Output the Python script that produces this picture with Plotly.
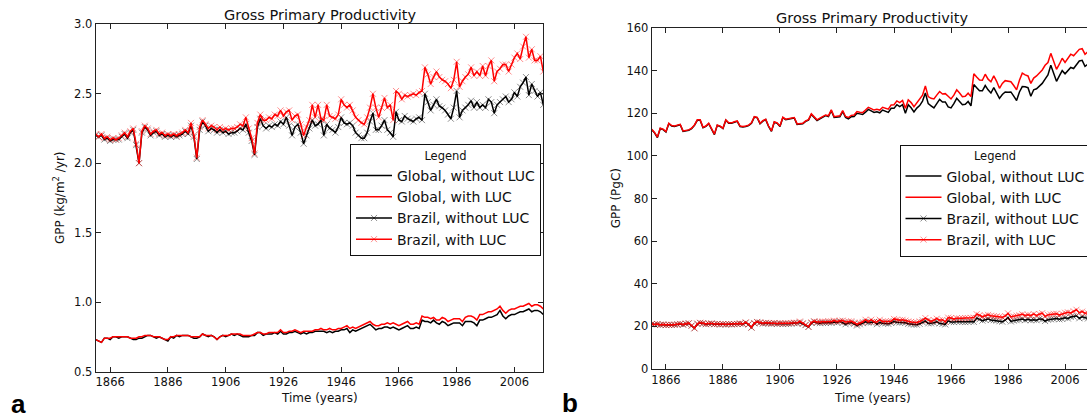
import plotly.graph_objects as go

START_YEAR = 1861
XTICKS = [1866, 1886, 1906, 1926, 1946, 1966, 1986, 2006]
LEGEND_NAMES = ["Global, without LUC", "Global, with LUC", "Brazil, without LUC", "Brazil, with LUC"]

# ---------------- Panel a: GPP (kg/m2/yr) ----------------
GL_A_NOLUC = [
    0.73, 0.72, 0.71, 0.74, 0.74, 0.73, 0.75, 0.75, 0.74, 0.75,
    0.75, 0.75, 0.74, 0.73, 0.73, 0.74, 0.74, 0.75, 0.76, 0.76,
    0.75, 0.74, 0.75, 0.74, 0.73, 0.72, 0.75, 0.74, 0.76, 0.75,
    0.76, 0.76, 0.76, 0.75, 0.74, 0.74, 0.75, 0.77, 0.76, 0.75,
    0.76, 0.75, 0.73, 0.75, 0.76, 0.75, 0.76, 0.77, 0.76, 0.77,
    0.76, 0.75, 0.75, 0.75, 0.76, 0.76, 0.78, 0.78, 0.76, 0.77,
    0.77, 0.77, 0.78, 0.77, 0.79, 0.77, 0.77, 0.78, 0.78, 0.79,
    0.78, 0.77, 0.78, 0.77, 0.78, 0.78, 0.79, 0.79, 0.79, 0.79,
    0.78, 0.79, 0.78, 0.79, 0.79, 0.80, 0.80, 0.81, 0.78, 0.80,
    0.79, 0.80, 0.81, 0.82, 0.83, 0.84, 0.82, 0.80, 0.81, 0.81,
    0.82, 0.82, 0.81, 0.82, 0.81, 0.80, 0.81, 0.82, 0.83, 0.81,
    0.81, 0.82, 0.81, 0.87, 0.86, 0.86, 0.85, 0.87, 0.85, 0.84,
    0.86, 0.85, 0.83, 0.84, 0.85, 0.85, 0.85, 0.83, 0.86, 0.86,
    0.86, 0.85, 0.83, 0.87, 0.87, 0.88, 0.89, 0.89, 0.90, 0.91,
    0.94, 0.90, 0.88, 0.90, 0.91, 0.91, 0.92, 0.93, 0.93, 0.94,
    0.95, 0.93, 0.94, 0.94, 0.93, 0.91,
]
GL_A_LUC = [
    0.73, 0.72, 0.71, 0.74, 0.74, 0.74, 0.75, 0.75, 0.75, 0.75,
    0.75, 0.75, 0.74, 0.74, 0.74, 0.75, 0.75, 0.76, 0.76, 0.76,
    0.75, 0.75, 0.75, 0.74, 0.73, 0.73, 0.75, 0.75, 0.76, 0.76,
    0.76, 0.76, 0.76, 0.75, 0.75, 0.75, 0.75, 0.77, 0.76, 0.76,
    0.76, 0.75, 0.73, 0.75, 0.76, 0.76, 0.76, 0.77, 0.77, 0.77,
    0.77, 0.76, 0.76, 0.76, 0.76, 0.77, 0.78, 0.78, 0.77, 0.77,
    0.78, 0.78, 0.78, 0.78, 0.80, 0.78, 0.78, 0.79, 0.79, 0.80,
    0.79, 0.78, 0.79, 0.79, 0.79, 0.79, 0.80, 0.80, 0.81, 0.80,
    0.80, 0.81, 0.80, 0.80, 0.81, 0.81, 0.82, 0.83, 0.81, 0.82,
    0.81, 0.82, 0.83, 0.84, 0.85, 0.86, 0.84, 0.83, 0.83, 0.84,
    0.84, 0.85, 0.84, 0.85, 0.84, 0.83, 0.84, 0.85, 0.86, 0.84,
    0.84, 0.85, 0.84, 0.90, 0.89, 0.89, 0.88, 0.89, 0.87, 0.87,
    0.89, 0.88, 0.86, 0.87, 0.88, 0.88, 0.88, 0.86, 0.89, 0.90,
    0.90, 0.89, 0.87, 0.91, 0.91, 0.92, 0.93, 0.93, 0.94, 0.95,
    0.97, 0.94, 0.92, 0.94, 0.95, 0.95, 0.96, 0.97, 0.97, 0.98,
    0.99, 0.97, 0.98, 0.98, 0.97, 0.95,
]
BR_A_NOLUC = [
    2.20, 2.19, 2.20, 2.17, 2.18, 2.16, 2.17, 2.17, 2.17, 2.19,
    2.21, 2.18, 2.22, 2.24, 2.13, 2.00, 2.22, 2.26, 2.24, 2.20,
    2.22, 2.23, 2.20, 2.21, 2.19, 2.20, 2.19, 2.20, 2.19, 2.20,
    2.21, 2.23, 2.21, 2.27, 2.19, 2.03, 2.24, 2.30, 2.27, 2.23,
    2.25, 2.24, 2.22, 2.24, 2.22, 2.23, 2.21, 2.22, 2.22, 2.23,
    2.25, 2.24, 2.28, 2.22, 2.16, 2.06, 2.26, 2.32, 2.27, 2.25,
    2.27, 2.26, 2.28, 2.27, 2.30, 2.28, 2.33, 2.27, 2.20, 2.26,
    2.28, 2.22, 2.14, 2.20, 2.25, 2.31, 2.27, 2.28, 2.31, 2.20,
    2.28, 2.25, 2.24, 2.22, 2.26, 2.33, 2.29, 2.28, 2.29, 2.27,
    2.22, 2.20, 2.18, 2.18, 2.22, 2.30, 2.36, 2.24, 2.24, 2.27,
    2.31, 2.24, 2.22, 2.19, 2.37, 2.31, 2.30, 2.34, 2.32, 2.31,
    2.30, 2.32, 2.33, 2.31, 2.50, 2.44, 2.38, 2.42, 2.46, 2.41,
    2.40, 2.38, 2.35, 2.32, 2.40, 2.52, 2.33, 2.38, 2.40, 2.42,
    2.45, 2.40, 2.44, 2.40, 2.42, 2.40, 2.46, 2.44, 2.36, 2.42,
    2.44, 2.46, 2.48, 2.44, 2.46, 2.51, 2.48, 2.55, 2.58, 2.62,
    2.49, 2.57, 2.52, 2.48, 2.51, 2.42,
]
BR_A_LUC = [
    2.21, 2.19, 2.21, 2.18, 2.19, 2.17, 2.18, 2.17, 2.18, 2.20,
    2.22, 2.19, 2.23, 2.25, 2.14, 2.00, 2.23, 2.27, 2.25, 2.21,
    2.23, 2.24, 2.21, 2.22, 2.20, 2.21, 2.20, 2.21, 2.20, 2.21,
    2.22, 2.24, 2.22, 2.29, 2.20, 2.04, 2.26, 2.31, 2.28, 2.25,
    2.27, 2.26, 2.24, 2.26, 2.24, 2.25, 2.24, 2.25, 2.25, 2.26,
    2.28, 2.27, 2.33, 2.25, 2.18, 2.07, 2.29, 2.35, 2.31, 2.31,
    2.33, 2.32, 2.35, 2.34, 2.38, 2.34, 2.37, 2.38, 2.31, 2.34,
    2.35, 2.28, 2.20, 2.26, 2.31, 2.42, 2.33, 2.42, 2.32, 2.31,
    2.42, 2.34, 2.33, 2.32, 2.35, 2.46, 2.42, 2.40, 2.42, 2.38,
    2.33, 2.31, 2.29, 2.28, 2.33, 2.40, 2.50, 2.40, 2.33, 2.40,
    2.47, 2.40, 2.42, 2.31, 2.52, 2.50, 2.46, 2.49, 2.48, 2.49,
    2.50, 2.49, 2.51, 2.52, 2.69, 2.64, 2.57, 2.62, 2.66, 2.62,
    2.60, 2.59, 2.57, 2.54, 2.60, 2.73, 2.55, 2.59, 2.62, 2.64,
    2.69, 2.63, 2.66, 2.63, 2.70, 2.63, 2.70, 2.74, 2.59, 2.66,
    2.68, 2.71, 2.71, 2.66, 2.71, 2.76, 2.79, 2.75, 2.84, 2.91,
    2.76, 2.82, 2.74, 2.74, 2.77, 2.66,
]

# ---------------- Panel b: GPP (PgC) ----------------
GL_B_NOLUC = [
    112.3, 110.8, 108.6, 112.8, 112.3, 111.2, 115.1, 114.0, 113.8, 114.3,
    114.6, 111.5, 111.8, 112.0, 112.8, 114.3, 116.7, 116.7, 113.2, 113.8,
    115.1, 112.8, 110.0, 114.3, 113.8, 112.8, 116.7, 115.3, 115.3, 115.8,
    116.2, 113.8, 113.6, 113.8, 114.2, 115.3, 118.2, 117.9, 115.1, 116.3,
    117.0, 113.8, 111.5, 115.8, 115.3, 113.8, 117.9, 117.0, 117.3, 117.8,
    117.8, 114.8, 115.0, 115.1, 116.2, 116.8, 119.4, 118.2, 116.6, 117.4,
    118.2, 118.9, 118.4, 121.2, 118.0, 118.2, 118.3, 120.8, 118.0, 117.4,
    118.4, 118.5, 120.0, 119.7, 119.4, 120.5, 121.8, 121.1, 120.4, 120.7,
    120.2, 121.5, 120.9, 120.4, 122.3, 122.3, 124.0, 123.1, 124.0, 120.0,
    124.0, 122.6, 120.6, 122.4, 123.6, 125.7, 129.5, 124.5, 123.5, 122.5,
    124.5, 126.5, 125.3, 125.3, 123.0, 122.5, 124.5, 127.0, 125.5, 124.0,
    124.2, 125.5, 123.5, 133.5, 132.0, 130.5, 130.5, 133.0, 131.0, 129.5,
    132.0, 129.5, 127.0, 128.8, 130.0, 129.8, 130.0, 128.0, 126.0, 130.0,
    132.5, 132.4, 132.0, 128.0, 131.0, 131.5, 132.8, 134.0, 136.0, 138.0,
    142.5, 138.5, 135.0, 137.5, 140.0, 138.5, 140.0, 141.5, 141.0, 142.5,
    144.5, 144.8, 142.0, 143.0, 143.0, 141.5,
]
GL_B_LUC = [
    112.5, 111.0, 108.8, 113.0, 112.5, 111.4, 115.3, 114.2, 114.0, 114.5,
    114.8, 111.7, 112.0, 112.2, 113.0, 114.5, 116.9, 116.9, 113.4, 114.0,
    115.3, 113.0, 110.2, 114.5, 114.0, 113.0, 116.9, 115.5, 115.5, 116.0,
    116.4, 114.0, 113.8, 114.0, 114.4, 115.5, 118.4, 118.1, 115.3, 116.5,
    117.2, 114.0, 111.7, 116.0, 115.5, 114.0, 118.1, 117.2, 117.5, 118.0,
    118.0, 115.0, 115.2, 115.3, 116.4, 117.0, 119.7, 118.5, 116.9, 117.7,
    118.5, 119.2, 118.8, 121.6, 118.4, 118.6, 118.8, 121.3, 118.5, 118.0,
    119.0, 119.2, 120.8, 120.5, 120.3, 121.5, 122.8, 122.2, 121.5, 121.9,
    121.5, 122.8, 122.3, 121.9, 123.9, 124.0, 125.8, 125.0, 126.0, 122.3,
    126.3, 125.0, 123.1, 125.0, 126.3, 128.5, 132.8, 127.8, 127.0, 126.7,
    128.5, 130.2, 129.0, 129.2, 128.0, 126.7, 128.5, 131.0, 129.5, 127.8,
    128.0, 129.4, 127.8, 138.5, 137.0, 135.6, 135.5, 138.3, 136.0, 134.8,
    137.5, 135.0, 131.7, 134.0, 135.3, 135.0, 134.8, 133.0, 131.0, 135.5,
    138.8, 138.0, 137.5, 134.0, 136.5, 137.5, 139.0, 140.3, 142.5, 143.8,
    148.1, 144.0, 140.6, 143.0, 145.8, 143.8, 145.5, 147.7, 147.0, 148.5,
    150.0, 150.3, 147.7, 148.9, 148.5, 147.0,
]
BR_B_NOLUC = [
    21.0, 20.9, 21.0, 20.7, 20.8, 20.6, 20.7, 20.7, 20.7, 20.9,
    21.1, 20.8, 21.2, 21.4, 20.3, 19.1, 21.2, 21.6, 21.4, 21.0,
    21.2, 21.3, 21.0, 21.1, 20.9, 21.0, 20.9, 21.0, 20.9, 21.0,
    21.1, 21.3, 21.1, 21.7, 20.9, 19.4, 21.4, 22.0, 21.7, 21.3,
    21.5, 21.4, 21.2, 21.4, 21.2, 21.3, 21.1, 21.2, 21.2, 21.3,
    21.5, 21.4, 21.8, 21.2, 20.6, 19.7, 21.6, 22.2, 21.7, 21.5,
    21.7, 21.6, 21.8, 21.7, 22.0, 21.8, 22.3, 21.7, 21.0, 21.6,
    21.8, 21.2, 20.4, 21.0, 21.5, 22.1, 21.7, 21.8, 22.1, 21.0,
    21.8, 21.5, 21.4, 21.2, 21.6, 22.3, 21.9, 21.8, 21.9, 21.7,
    21.2, 21.0, 20.8, 20.8, 21.2, 22.0, 22.5, 21.4, 21.4, 21.7,
    22.1, 21.4, 21.2, 20.9, 22.6, 22.1, 22.0, 22.3, 22.2, 22.1,
    22.0, 22.2, 22.3, 22.1, 23.9, 23.3, 22.7, 23.1, 23.5, 23.0,
    22.9, 22.7, 22.4, 22.2, 22.9, 24.1, 22.3, 22.7, 22.9, 23.1,
    23.4, 22.9, 23.3, 22.9, 23.1, 22.9, 23.5, 23.3, 22.5, 23.1,
    23.3, 23.5, 23.7, 23.3, 23.5, 24.0, 23.7, 24.4, 24.6, 25.0,
    23.8, 24.5, 24.1, 23.7, 24.0, 23.1,
]
BR_B_LUC = [
    21.1, 20.9, 21.1, 20.8, 20.9, 20.7, 20.8, 20.7, 20.8, 21.0,
    21.2, 20.9, 21.3, 21.5, 20.4, 19.1, 21.3, 21.7, 21.5, 21.1,
    21.3, 21.4, 21.1, 21.2, 21.0, 21.1, 21.0, 21.1, 21.0, 21.1,
    21.2, 21.4, 21.2, 21.9, 21.0, 19.5, 21.6, 22.1, 21.8, 21.5,
    21.7, 21.6, 21.4, 21.6, 21.4, 21.5, 21.4, 21.5, 21.5, 21.6,
    21.8, 21.7, 22.3, 21.5, 20.8, 19.8, 21.9, 22.4, 22.1, 22.1,
    22.3, 22.2, 22.4, 22.3, 22.7, 22.3, 22.6, 22.7, 22.1, 22.3,
    22.4, 21.8, 21.0, 21.6, 22.1, 23.1, 22.3, 23.1, 22.2, 22.1,
    23.1, 22.3, 22.3, 22.2, 22.4, 23.5, 23.1, 22.9, 23.1, 22.7,
    22.3, 22.1, 21.9, 21.8, 22.3, 22.9, 23.9, 22.9, 22.3, 22.9,
    23.6, 22.9, 23.1, 22.1, 24.1, 23.9, 23.5, 23.8, 23.7, 23.8,
    23.9, 23.8, 24.0, 24.1, 25.7, 25.2, 24.5, 25.0, 25.4, 25.0,
    24.8, 24.7, 24.5, 24.3, 24.8, 26.1, 24.4, 24.7, 25.0, 25.2,
    25.7, 25.1, 25.4, 25.1, 25.8, 25.1, 25.8, 26.2, 24.7, 25.4,
    25.6, 25.9, 25.9, 25.4, 25.9, 26.4, 26.6, 26.3, 27.1, 27.8,
    26.4, 26.9, 26.2, 26.2, 26.5, 25.4,
]

W, H = 1087, 418
FONT = "DejaVu Sans"


def years(vals):
    return list(range(START_YEAR, START_YEAR + len(vals)))


fig = go.Figure()

panels = [
    ("x", "y", "legend", [GL_A_NOLUC, GL_A_LUC, BR_A_NOLUC, BR_A_LUC]),
    ("x2", "y2", "legend2", [GL_B_NOLUC, GL_B_LUC, BR_B_NOLUC, BR_B_LUC]),
]
styles = [
    ("#000000", None),
    ("#ff0000", None),
    ("#000000", "rgba(0,0,0,0.45)"),
    ("#ff0000", "rgba(255,0,0,0.45)"),
]

for xa, ya, leg, series in panels:
    for name, vals, (col, mcol) in zip(LEGEND_NAMES, series, styles):
        if mcol is None:
            fig.add_trace(go.Scatter(
                x=years(vals), y=vals, name=name, mode="lines",
                line=dict(color=col, width=1.5),
                xaxis=xa, yaxis=ya, legend=leg))
        else:
            fig.add_trace(go.Scatter(
                x=years(vals), y=vals, name=name, mode="lines+markers",
                line=dict(color=col, width=1.5),
                marker=dict(symbol="x-thin", size=6, color=mcol,
                            line=dict(width=1, color=mcol)),
                xaxis=xa, yaxis=ya, legend=leg))

axis_common = dict(
    showline=True, linecolor="#222", linewidth=1,
    ticks="inside", ticklen=5, tickcolor="#222", tickwidth=1,
    showgrid=False, zeroline=False,
    tickfont=dict(family=FONT, size=11.5, color="#111"),
)

legend_common = dict(
    xanchor="left", yanchor="top",
    bgcolor="white", bordercolor="#111", borderwidth=1,
    font=dict(family=FONT, size=14, color="#111"),
    title=dict(text="Legend", side="top center", font=dict(family=FONT, size=11.5, color="#111")),
    itemwidth=36,
)

fig.update_layout(
    width=W, height=H,
    margin=dict(l=0, r=0, t=0, b=0, autoexpand=False),
    paper_bgcolor="white", plot_bgcolor="white",
    font=dict(family=FONT, color="#111"),
    xaxis=dict(domain=[95.7 / W, 543.3 / W], range=[1861, 2016], tickvals=XTICKS,
               mirror="ticks", anchor="y", **axis_common),
    yaxis=dict(domain=[1 - 371.5 / H, 1 - 24.3 / H], range=[0.5, 3.0], dtick=0.5,
               tickformat=".1f", mirror="ticks", anchor="x", **axis_common),
    xaxis2=dict(domain=[651.7 / W, 1.0], range=[1861, 2013.7], tickvals=XTICKS,
                mirror="ticks", anchor="y2", **axis_common),
    yaxis2=dict(domain=[1 - 369 / H, 1 - 28 / H], range=[0, 160], dtick=20,
                mirror=False, anchor="x2", **axis_common),
    legend=dict(x=350 / W, y=1 - 144 / H, **legend_common),
    legend2=dict(x=899.5 / W, y=1 - 144.5 / H, **legend_common),
    showlegend=True,
)

tfont = dict(family=FONT, size=14.5, color="#111")
lfont = dict(family=FONT, size=12, color="#111")
annos = [
    dict(text="Gross Primary Productivity", x=319.5 / W, y=1 - 15 / H, font=tfont),
    dict(text="Gross Primary Productivity", x=872 / W, y=1 - 18 / H, font=tfont),
    dict(text="Time (years)", x=319.5 / W, y=1 - 398 / H, font=lfont),
    dict(text="Time (years)", x=872 / W, y=1 - 397.5 / H, font=lfont),
    dict(text="GPP (kg/m<sup>2</sup> /yr)", x=59 / W, y=1 - 198 / H, font=lfont, textangle=-90),
    dict(text="GPP (PgC)", x=616.7 / W, y=1 - 198.5 / H, font=lfont, textangle=-90),
    dict(text="<b>a</b>", x=18 / W, y=1 - 404 / H,
         font=dict(family="Liberation Sans", size=26, color="#000")),
    dict(text="<b>b</b>", x=570 / W, y=1 - 403 / H,
         font=dict(family="Liberation Sans", size=26, color="#000")),
]
for a in annos:
    fig.add_annotation(xref="paper", yref="paper", showarrow=False,
                       xanchor="center", yanchor="middle", **a)

fig.write_html("out.html")
